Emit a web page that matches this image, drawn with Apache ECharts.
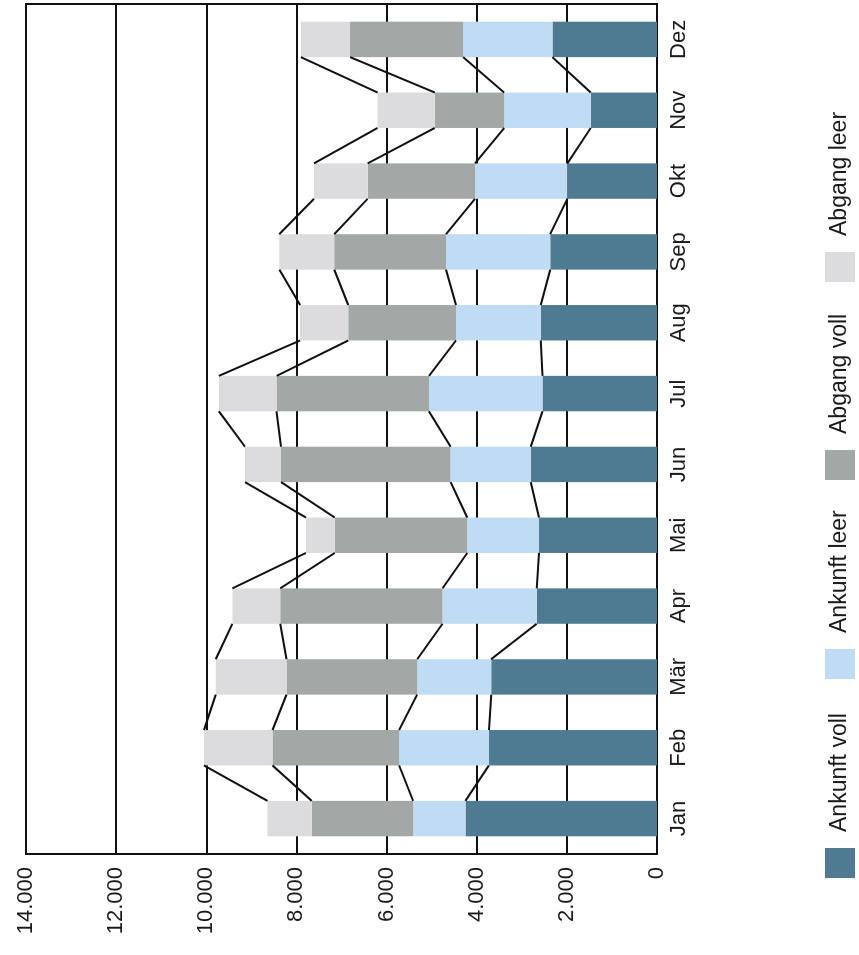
<!DOCTYPE html>
<html>
<head>
<meta charset="utf-8">
<script src="https://cdn.jsdelivr.net/npm/echarts@6/dist/echarts.min.js"></script>
<style>
  html, body { margin: 0; padding: 0; background: #ffffff; overflow: hidden; }
  #chart {
    position: absolute; left: 0; top: 0;
    width: 955px; height: 859px;
    transform-origin: 0 0;
    transform: translate(0px, 955px) rotate(-90deg);
  }
</style>
</head>
<body>
<div id="chart"></div>
<script>
// ---- data ----
const months = ['Jan', 'Feb', 'Mär', 'Apr', 'Mai', 'Jun', 'Jul', 'Aug', 'Sep', 'Okt', 'Nov', 'Dez'];
const ankunftVoll = [4250, 3730, 3680, 2670, 2620, 2800, 2540, 2580, 2370, 1990, 1470, 2320];
const ankunftLeer = [1160, 1990, 1640, 2090, 1590, 1780, 2520, 1880, 2310, 2050, 1920, 1980];
const abgangVoll  = [2250, 2810, 2900, 3600, 2940, 3760, 3380, 2390, 2480, 2380, 1540, 2510];
const abgangLeer  = [ 980, 1520, 1570, 1060,  640,  800, 1280, 1070, 1220, 1190, 1270, 1090];
const seriesNames = ['Ankunft voll', 'Ankunft leer', 'Abgang voll', 'Abgang leer'];
const valueTicks = ['0', '2.000', '4.000', '6.000', '8.000', '10.000', '12.000', '14.000'];

const seriesValues = [ankunftVoll, ankunftLeer, abgangVoll, abgangLeer];
const colors = ['#4e7b92', '#bfdcf4', '#a3a8a7', '#dcdcde'];
const FONT = "'Liberation Sans', Arial, sans-serif";

// cumulative stack levels for the connecting series lines
const cumulative = [];
seriesValues.forEach((arr, k) => {
  cumulative.push(arr.map((v, i) => v + (k > 0 ? cumulative[k - 1][i] : 0)));
});

const chart = echarts.init(document.getElementById('chart'), null, { renderer: 'canvas' });

const barSeries = seriesValues.map((arr, k) => ({
  name: seriesNames[k],
  type: 'bar',
  stack: 'total',
  data: arr,
  barCategoryGap: '50%',
  itemStyle: { color: colors[k] },
  z: 3
}));

const lineData = [];
cumulative.forEach(level => {
  for (let i = 0; i < months.length - 1; i++) {
    lineData.push([i, level[i], level[i + 1]]);
  }
});

const connector = {
  type: 'custom',
  name: 'connector',
  silent: true,
  z: 4,
  encode: { x: 0, y: [1, 2] },
  data: lineData,
  renderItem: function (params, api) {
    const i = api.value(0);
    const p1 = api.coord([i, api.value(1)]);
    const p2 = api.coord([i + 1, api.value(2)]);
    const band = api.size([1, 0])[0];
    const hw = band * 0.25;
    return {
      type: 'line',
      shape: { x1: p1[0] + hw, y1: p1[1], x2: p2[0] - hw, y2: p2[1] },
      style: { stroke: '#111111', lineWidth: 2 }
    };
  }
};

const legendLefts = [77, 276, 475, 673];
const legends = seriesNames.map((n, k) => ({
  data: [n],
  left: legendLefts[k],
  top: 825,
  orient: 'horizontal',
  padding: 0,
  itemWidth: 30,
  itemHeight: 30,
  icon: 'rect',
  selectedMode: false,
  textStyle: { fontFamily: FONT, fontSize: 23, color: '#1a1a1a', padding: [0, 0, 0, 11] }
}));

chart.setOption({
  animation: false,
  backgroundColor: '#ffffff',
  textStyle: { fontFamily: FONT },
  legend: legends,
  grid: {
    left: 101, right: 4, top: 26, bottom: 202,
    show: true, borderColor: '#111111', borderWidth: 2,
    containLabel: false
  },
  xAxis: {
    type: 'category',
    data: months,
    axisLine: { show: true, lineStyle: { color: '#111111', width: 2 } },
    axisTick: { show: false },
    axisLabel: { fontFamily: FONT, fontSize: 22, color: '#1a1a1a', margin: 11 }
  },
  yAxis: {
    type: 'value',
    min: 0, max: 14000, interval: 2000,
    axisLine: { show: true, lineStyle: { color: '#111111', width: 2 } },
    axisTick: { show: false },
    splitLine: { show: true, lineStyle: { color: '#111111', width: 2 } },
    axisLabel: {
      fontFamily: FONT, fontSize: 22, color: '#1a1a1a', margin: 13,
      formatter: function (v) { return valueTicks[Math.round(v / 2000)]; }
    }
  },
  series: barSeries.concat([connector])
});
</script>
</body>
</html>
